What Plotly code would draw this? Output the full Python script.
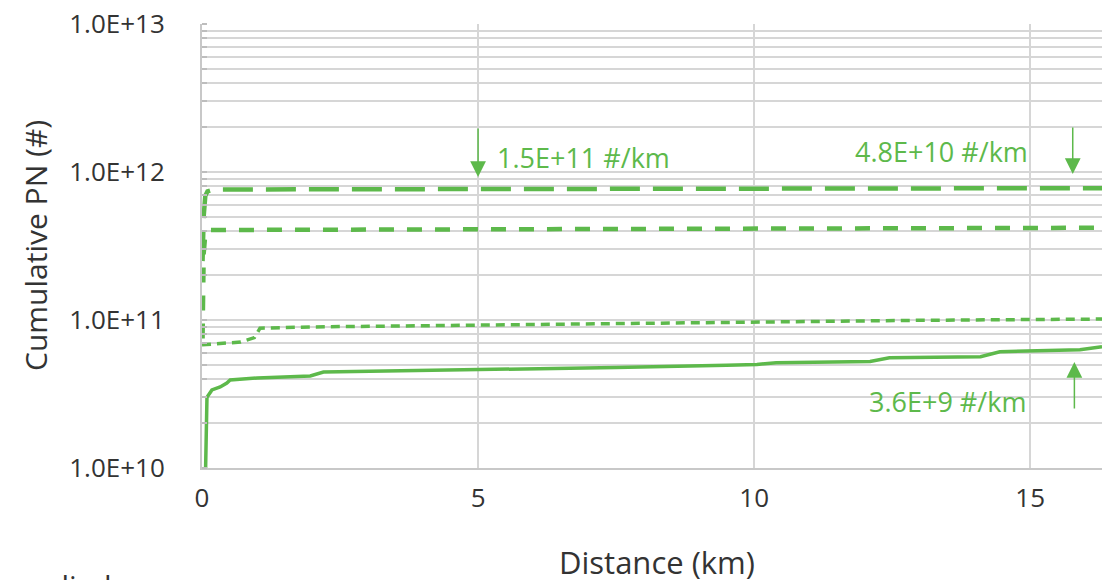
import plotly.graph_objects as go

GREEN = "#5DB94B"
TEXT = "#333333"
GRID = "#d6d6d6"
FONT = "Open Sans"

# Series A: long dash
a_x = [0.01, 0.03, 0.06, 0.1, 0.2, 0.5, 3, 8, 12, 16.3]
a_y = [2.5e11, 5.0e11, 6.9e11, 7.4e11, 7.6e11, 7.62e11, 7.65e11, 7.7e11, 7.72e11, 7.78e11]
# Series B: medium dash
b_x = [0.01, 0.03, 0.06, 0.12, 0.5, 3, 8, 12, 16.3]
b_y = [7.5e10, 2.8e11, 3.8e11, 4.05e11, 4.06e11, 4.08e11, 4.12e11, 4.15e11, 4.2e11]
# Series C: short dash
c_x = [0.0, 0.3, 0.7, 0.95, 1.05, 2.0, 5, 8, 10, 13, 16.3]
c_y = [6.8e10, 6.95e10, 7.1e10, 7.6e10, 8.8e10, 8.98e10, 9.25e10, 9.55e10, 9.7e10, 9.95e10, 1.015e11]
# Series D: solid
d_x = [0.05, 0.07, 0.09, 0.18, 0.33, 0.45, 0.51, 1.0, 1.96, 2.2, 5, 7.5, 9.5, 10.05, 10.4, 12.1, 12.45, 14.1, 14.45, 15.9, 16.3]
d_y = [5e9, 1.8e10, 3.0e10, 3.37e10, 3.53e10, 3.75e10, 3.93e10, 4.06e10, 4.19e10, 4.45e10, 4.6e10, 4.78e10, 4.95e10, 5.0e10,
       5.15e10, 5.25e10, 5.55e10, 5.65e10, 6.1e10, 6.3e10, 6.6e10]

y_tickvals = [1e10, 1e11, 1e12, 1e13]
y_ticktext = ["1.0E+10", "1.0E+11", "1.0E+12", "1.0E+13"]
x_tickvals = [0, 5, 10, 15]

fig = go.Figure()
fig.add_trace(go.Scatter(x=a_x, y=a_y, mode="lines", line=dict(color=GREEN, width=4.5, dash="30px,13px")))
fig.add_trace(go.Scatter(x=b_x, y=b_y, mode="lines", line=dict(color=GREEN, width=4.5, dash="15px,13px")))
fig.add_trace(go.Scatter(x=c_x, y=c_y, mode="lines", line=dict(color=GREEN, width=3.5, dash="9px,6px")))
fig.add_trace(go.Scatter(x=d_x, y=d_y, mode="lines", line=dict(color=GREEN, width=3.5)))

ann_font = dict(family=FONT, size=27, color=GREEN)
annotations = [
    # rate labels
    dict(x=5.3, y=12.1, xref="x", yref="y", text="1.5E+11 #/km", showarrow=False, xanchor="left", font=ann_font),
    dict(x=13.4, y=12.14, xref="x", yref="y", text="4.8E+10 #/km", showarrow=False, xanchor="center", font=ann_font),
    dict(x=13.5, y=10.45, xref="x", yref="y", text="3.6E+9 #/km", showarrow=False, xanchor="center", font=ann_font),
    # arrows
    dict(x=5, y=11.966, xref="x", yref="y", text="", showarrow=True, arrowhead=2, arrowsize=2.1, arrowwidth=1.5,
         arrowcolor=GREEN, ax=0, ay=-50),
    dict(x=15.77, y=11.986, xref="x", yref="y", text="", showarrow=True, arrowhead=2, arrowsize=2.1, arrowwidth=1.5,
         arrowcolor=GREEN, ax=0, ay=-48),
    dict(x=15.8, y=10.716, xref="x", yref="y", text="", showarrow=True, arrowhead=2, arrowsize=2.1, arrowwidth=1.5,
         arrowcolor=GREEN, ax=0, ay=48),
    # axis titles
    dict(x=0, y=0.5, xref="paper", yref="paper", text="Cumulative PN (#)", showarrow=False, textangle=-90,
         xanchor="center", yanchor="middle", xshift=-167, font=dict(family=FONT, size=30, color=TEXT)),
    dict(x=0.506, y=0, xref="paper", yref="paper", text="Distance (km)", showarrow=False,
         xanchor="center", yanchor="top", yshift=-71, font=dict(family=FONT, size=31, color=TEXT)),
    dict(x=0, y=0, xref="paper", yref="paper", text="applied", showarrow=False,
         xanchor="left", yanchor="top", xshift=-196, yshift=-95, font=dict(family=FONT, size=30, color=TEXT)),
]

fig.update_layout(
    width=1102, height=580,
    margin=dict(l=202, r=0, t=24, b=112),
    paper_bgcolor="white", plot_bgcolor="white",
    showlegend=False,
    annotations=annotations,
    xaxis=dict(
        range=[0, 16.3], tickmode="array", tickvals=x_tickvals,
        showgrid=True, gridcolor=GRID, gridwidth=2, zeroline=False,
        showline=True, linecolor="#c8c8c8", linewidth=2,
        ticks="", tickfont=dict(family=FONT, size=26, color=TEXT), ticklabelstandoff=6,
    ),
    yaxis=dict(
        type="log", range=[10, 13], tickmode="array", tickvals=y_tickvals, ticktext=y_ticktext,
        showgrid=True, gridcolor=GRID, gridwidth=2, zeroline=False,
        showline=True, linecolor="#c8c8c8", linewidth=2,
        ticks="", tickfont=dict(family=FONT, size=26, color=TEXT), ticklabelstandoff=30,
        minor=dict(showgrid=True, dtick="D1", gridcolor=GRID, gridwidth=2,
                   ticks="inside", ticklen=5, tickcolor="#bdbdbd", tickwidth=2),
    ),
)

fig.write_html("out.html")
